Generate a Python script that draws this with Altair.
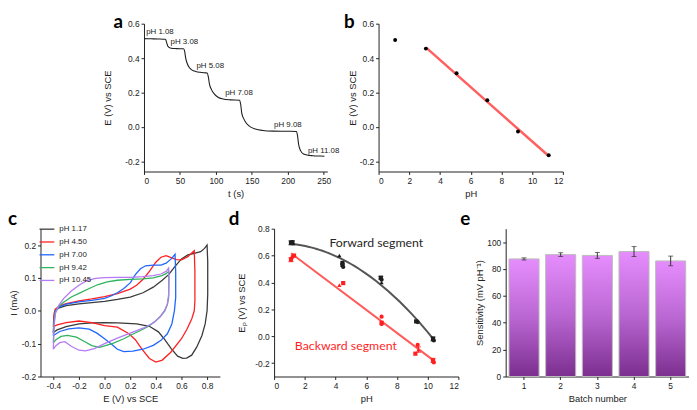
import altair as alt
import pandas as pd

FONT = "Liberation Sans"
LETTER_FONT = "Lato"

# ---------------- panel a : potential vs time ----------------
a_t = [0, 10, 20, 30, 31.5, 33, 35, 38, 45, 55, 56.5, 58, 60, 63, 67, 72, 78, 85, 88,
       89.5, 91, 94, 98, 103, 110, 120, 133, 134.5, 136, 139, 143, 148, 155, 165, 180,
       200, 212, 213.5, 215, 218, 222, 228, 235, 245, 251]
a_E = [0.513, 0.512, 0.511, 0.509, 0.49, 0.47, 0.462, 0.457, 0.455, 0.454, 0.44, 0.40,
       0.37, 0.345, 0.33, 0.322, 0.317, 0.314, 0.313, 0.29, 0.25, 0.215, 0.19, 0.172,
       0.162, 0.157, 0.155, 0.13, 0.08, 0.045, 0.018, 0.0, -0.013, -0.021, -0.025,
       -0.026, -0.027, -0.05, -0.10, -0.14, -0.158, -0.165, -0.168, -0.17, -0.171]
a_labels = ["pH 1.08", "pH 3.08", "pH 5.08", "pH 7.08", "pH 9.08", "pH 11.08"]
a_label_t = [3, 37, 73, 113, 181, 228]
a_label_E = [0.55, 0.495, 0.354, 0.196, 0.008, -0.14]

# ---------------- panel b : calibration ----------------
b_pH = [1.08, 3.08, 5.08, 7.08, 9.08, 11.08]
b_E = [0.505, 0.455, 0.312, 0.155, -0.027, -0.165]

# ---------------- panel c : cyclic voltammograms ----------------
c_labels = ["pH 1.17", "pH 4.50", "pH 7.00", "pH 9.42", "pH 10.45"]
c_colors = ["#3a3a3a", "#ff1f1f", "#1f66ff", "#2fb35c", "#b57af5"]
c1_E = [-0.40, -0.395, -0.385, -0.36, -0.3, -0.2, -0.1, 0.0, 0.1, 0.2, 0.3, 0.38, 0.45, 0.5, 0.55,
        0.6, 0.65, 0.7, 0.75, 0.78, 0.8, 0.805, 0.805, 0.8, 0.785, 0.76, 0.72, 0.68, 0.64, 0.61,
        0.57, 0.52, 0.47, 0.42, 0.35, 0.25, 0.1, 0.0, -0.1, -0.2, -0.3, -0.37, -0.40]
c1_I = [-0.066, -0.02, 0.0, 0.008, 0.016, 0.021, 0.025, 0.029, 0.035, 0.042, 0.055, 0.072, 0.093,
        0.11, 0.135, 0.158, 0.17, 0.175, 0.18, 0.19, 0.2, 0.15, 0.05, 0.0, -0.04, -0.075, -0.11,
        -0.135, -0.144, -0.145, -0.138, -0.115, -0.088, -0.064, -0.047, -0.04, -0.037, -0.036,
        -0.037, -0.04, -0.048, -0.058, -0.066]
c2_E = [-0.40, -0.395, -0.385, -0.35, -0.3, -0.2, -0.1, 0.0, 0.1, 0.2, 0.25, 0.3, 0.35, 0.4, 0.44,
        0.48, 0.52, 0.56, 0.6, 0.65, 0.7, 0.705, 0.705, 0.7, 0.68, 0.643, 0.6, 0.517, 0.45, 0.40,
        0.35, 0.29, 0.24, 0.19, 0.1, 0.0, -0.1, -0.2, -0.3, -0.37, -0.40]
c2_I = [-0.048, -0.01, 0.005, 0.015, 0.022, 0.03, 0.036, 0.043, 0.052, 0.066, 0.078, 0.096, 0.12,
        0.148, 0.163, 0.168, 0.162, 0.156, 0.155, 0.165, 0.183, 0.12, 0.03, 0.0, -0.025, -0.056,
        -0.085, -0.126, -0.15, -0.156, -0.145, -0.116, -0.088, -0.07, -0.05, -0.045, -0.036,
        -0.031, -0.036, -0.043, -0.048]
c3_E = [-0.40, -0.395, -0.385, -0.35, -0.3, -0.2, -0.1, 0.0, 0.05, 0.1, 0.15, 0.2, 0.24, 0.28,
        0.32, 0.38, 0.44, 0.48, 0.52, 0.55, 0.555, 0.555, 0.545, 0.525, 0.49, 0.44, 0.38, 0.3,
        0.22, 0.15, 0.1, 0.05, 0.0, -0.06, -0.12, -0.2, -0.28, -0.35, -0.40]
c3_I = [-0.075, -0.03, 0.0, 0.012, 0.02, 0.027, 0.032, 0.038, 0.045, 0.055, 0.068, 0.085, 0.11,
        0.128, 0.137, 0.139, 0.139, 0.145, 0.158, 0.172, 0.12, 0.04, 0.0, -0.04, -0.07, -0.09,
        -0.105, -0.117, -0.123, -0.124, -0.117, -0.1, -0.085, -0.068, -0.056, -0.052, -0.055,
        -0.063, -0.075]
c4_E = [-0.40, -0.395, -0.385, -0.36, -0.32, -0.26, -0.2, -0.12, -0.05, 0.02, 0.1, 0.2, 0.3,
        0.38, 0.44, 0.48, 0.5, 0.502, 0.5, 0.49, 0.47, 0.44, 0.4, 0.34, 0.28, 0.214, 0.15, 0.06,
        0.0, -0.04, -0.1, -0.15, -0.22, -0.29, -0.34, -0.38, -0.40]
c4_I = [-0.097, -0.04, -0.005, 0.012, 0.026, 0.042, 0.053, 0.068, 0.08, 0.088, 0.093, 0.096,
        0.097, 0.1, 0.106, 0.113, 0.12, 0.09, 0.04, 0.02, 0.0, -0.015, -0.03, -0.048, -0.06,
        -0.072, -0.085, -0.1, -0.107, -0.111, -0.106, -0.095, -0.08, -0.075, -0.078, -0.088,
        -0.097]
c5_E = [-0.40, -0.395, -0.385, -0.36, -0.32, -0.26, -0.2, -0.14, -0.07, 0.0, 0.1, 0.2, 0.3,
        0.38, 0.44, 0.48, 0.5, 0.502, 0.5, 0.49, 0.47, 0.43, 0.38, 0.3, 0.2, 0.1, 0.0, -0.08,
        -0.15, -0.2, -0.26, -0.31, -0.35, -0.38, -0.40]
c5_I = [-0.117, -0.05, -0.01, 0.015, 0.037, 0.06, 0.078, 0.092, 0.099, 0.101, 0.102, 0.102,
        0.104, 0.107, 0.112, 0.12, 0.13, 0.1, 0.05, 0.02, 0.002, -0.02, -0.037, -0.053, -0.068,
        -0.083, -0.1, -0.115, -0.122, -0.12, -0.108, -0.094, -0.097, -0.106, -0.117]

# ---------------- panel d : peak potentials ----------------
d_f_pH = [1.1, 1.2, 1.25, 4.25, 4.45, 4.45, 4.5, 6.95, 7.0, 7.0, 9.25, 9.35, 10.35, 10.4]
d_f_E = [0.695, 0.70, 0.69, 0.60, 0.545, 0.53, 0.515, 0.435, 0.42, 0.40, 0.11, 0.105, -0.02, -0.032]
d_f_err = [0.015, 0.01, 0.0, 0.0, 0.0, 0.0, 0.0, 0.01, 0.0, 0.0, 0.0, 0.0, 0.015, 0.0]
d_f_shape = ["square", "circle", "triangle-up", "triangle-up", "square", "square", "circle",
             "square", "circle", "triangle-up", "square", "circle", "square", "circle"]
d_b_pH = [1.1, 1.2, 1.3, 4.25, 4.5, 7.0, 7.0, 7.0, 9.2, 9.35, 9.4, 10.35, 10.4]
d_b_E = [0.57, 0.59, 0.60, 0.38, 0.395, 0.145, 0.10, 0.09, -0.13, -0.065, -0.10, -0.18, -0.195]
d_b_err = [0.015, 0.0, 0.0, 0.0, 0.0, 0.0, 0.0, 0.0, 0.0, 0.0, 0.02, 0.015, 0.0]
d_b_shape = ["square", "circle", "square", "triangle-up", "square", "circle", "square", "circle",
             "square", "circle", "triangle-up", "square", "circle"]
d_texts = ["Forward segment", "Backward segment"]
d_text_pH = [3.6, 1.35]
d_text_E = [0.69, -0.07]
d_text_colors = ["#262626", "#ff1f1f"]

# ---------------- panel e : sensitivity per batch ----------------
e_batch = [1, 2, 3, 4, 5]
e_sens = [87.5, 90.7, 90.1, 93.0, 86.0]
e_err = [0.8, 1.4, 2.2, 3.7, 3.6]


def ax(**kw):
    d = dict(domainColor="#222", tickColor="#222", tickSize=3, labelFont=FONT, labelFontSize=8.5,
             labelColor="#222", titleFont=FONT, titleFontSize=9.5, titleFontWeight="normal",
             titleColor="#222", grid=False, labelPadding=2, labelOverlap=False,
             labelExpr="replace(datum.label, '\u2212', '-')")
    d.update(kw)
    return alt.Axis(**d)


def letter(t, x, y):
    return (alt.Chart(pd.DataFrame({"k": [t]}))
            .mark_text(text=t, align="left", baseline="alphabetic", font=LETTER_FONT, fontSize=19,
                       fontWeight="bold", color="#000")
            .encode(x=alt.value(x), y=alt.value(y)))


def enc_factory(kind, scale, axis):
    def f(field):
        if kind == "x":
            return alt.X(field, scale=scale, axis=axis)
        return alt.Y(field, scale=scale, axis=axis)
    return f


# panel a
dfa = pd.DataFrame({"t": a_t, "E": a_E})
dfa_lab = pd.DataFrame({"t": a_label_t, "E": a_label_E, "lab": a_labels})
XA = enc_factory("x", alt.Scale(domain=[0, 255], nice=False),
                 ax(title="t (s)", values=[0, 50, 100, 150, 200, 250], titlePadding=4))
YA = enc_factory("y", alt.Scale(domain=[-0.26, 0.6], nice=False),
                 ax(title="E (V) vs SCE", values=[-0.2, 0, 0.2, 0.4, 0.6], format=".1f", titlePadding=12))
line_a = alt.Chart(dfa).mark_line(color="#1e1e1e", strokeWidth=1.1, interpolate="monotone").encode(
    x=XA("t:Q"), y=YA("E:Q"))
text_a = alt.Chart(dfa_lab).mark_text(align="left", baseline="middle", font=FONT, fontSize=8,
                                      color="#222").encode(x=XA("t:Q"), y=YA("E:Q"), text="lab:N")
panel_a = alt.layer(line_a, text_a, letter("a", -31, 4)).properties(width=186, height=150)

# panel b
dfb = pd.DataFrame({"pH": b_pH, "E": b_E})
XB = enc_factory("x", alt.Scale(domain=[0, 12], nice=False),
                 ax(title="pH", values=list(range(0, 13, 2)), titlePadding=4))
YB = enc_factory("y", alt.Scale(domain=[-0.26, 0.6], nice=False),
                 ax(title="E (V) vs SCE", values=[-0.2, 0, 0.2, 0.4, 0.6], format=".1f", titlePadding=2))
fit_b = (alt.Chart(dfb).transform_filter("datum.pH > 2").transform_regression("pH", "E")
         .mark_line(color="#ff5f5f", strokeWidth=2.5).encode(x=XB("pH:Q"), y=YB("E:Q")))
pts_b = alt.Chart(dfb).mark_point(filled=True, color="#000", size=16, opacity=1).encode(
    x=XB("pH:Q"), y=YB("E:Q"))
panel_b = alt.layer(fit_b, pts_b, letter("b", -35, 4)).properties(width=187, height=150)

# panel c
rows = []
for lab, Es, Is in zip(c_labels, [c1_E, c2_E, c3_E, c4_E, c5_E], [c1_I, c2_I, c3_I, c4_I, c5_I]):
    for k, (e, i) in enumerate(zip(Es, Is)):
        rows.append({"series": lab, "idx": k, "E": e, "I": i})
dfc = pd.DataFrame(rows)
lines_c = (alt.Chart(dfc).mark_line(strokeWidth=1.3, interpolate="linear")
           .encode(x=alt.X("E:Q", scale=alt.Scale(domain=[-0.5, 0.9], nice=False),
                           axis=ax(title="E (V) vs SCE", values=[-0.4, -0.2, 0, 0.2, 0.4, 0.6, 0.8],
                                   format=".1f", titlePadding=4)),
                   y=alt.Y("I:Q", scale=alt.Scale(domain=[-0.2, 0.25], nice=False),
                           axis=ax(title="I (mA)", values=[-0.2, -0.1, 0, 0.1, 0.2], format=".1f",
                                   titlePadding=3)),
                   color=alt.Color("series:N", scale=alt.Scale(domain=c_labels, range=c_colors),
                                   legend=alt.Legend(title=None, orient="none", legendX=-2, legendY=-8,
                                                     symbolType="M-1,0H1", symbolSize=225,
                                                     symbolStrokeWidth=1.3, labelFont=FONT,
                                                     labelFontSize=8, labelColor="#222",
                                                     rowPadding=-4, padding=0, labelOffset=4)),
                   order="idx:Q", detail="series:N"))
panel_c = alt.layer(lines_c, letter("c", -33, -4)).properties(width=182, height=150)

# panel d
dff = pd.DataFrame({"pH": d_f_pH, "E": d_f_E, "err": d_f_err, "shape": d_f_shape})
dfbk = pd.DataFrame({"pH": d_b_pH, "E": d_b_E, "err": d_b_err, "shape": d_b_shape})
dft = pd.DataFrame({"pH": d_text_pH, "E": d_text_E, "txt": d_texts, "col": d_text_colors})
XD = enc_factory("x", alt.Scale(domain=[0, 12], nice=False),
                 ax(title="pH", values=list(range(0, 13, 2)), titlePadding=4))
YD = enc_factory("y", alt.Scale(domain=[-0.3, 0.8], nice=False),
                 ax(title="E\u209a (V) vs SCE", values=[-0.2, 0, 0.2, 0.4, 0.6, 0.8], format=".1f",
                    titlePadding=8))
fit_f = (alt.Chart(dff).transform_regression("pH", "E", method="poly", order=2)
         .mark_line(color="#555555", strokeWidth=2).encode(x=XD("pH:Q"), y=YD("E:Q")))
fit_r = (alt.Chart(dfbk).transform_regression("pH", "E")
         .mark_line(color="#ff5a5a", strokeWidth=2).encode(x=XD("pH:Q"), y=YD("E:Q")))


def err_layer(df, col):
    base = alt.Chart(df).transform_filter("datum.err > 0").transform_calculate(
        lo="datum.E - datum.err", hi="datum.E + datum.err")
    r = base.mark_rule(color=col, strokeWidth=1.2).encode(x=XD("pH:Q"), y=YD("lo:Q"), y2="hi:Q")
    t1 = base.mark_tick(color=col, size=5, thickness=1.2, orient="horizontal").encode(
        x=XD("pH:Q"), y=YD("lo:Q"))
    t2 = base.mark_tick(color=col, size=5, thickness=1.2, orient="horizontal").encode(
        x=XD("pH:Q"), y=YD("hi:Q"))
    return [r, t1, t2]


def pts_layer(df, col):
    return alt.Chart(df).mark_point(filled=True, size=18, opacity=1, color=col).encode(
        x=XD("pH:Q"), y=YD("E:Q"), shape=alt.Shape("shape:N", scale=None))


txt_d = (alt.Chart(dft).mark_text(align="left", baseline="middle", font=LETTER_FONT, fontSize=12.5)
         .encode(x=XD("pH:Q"), y=YD("E:Q"), text="txt:N", color=alt.Color("col:N", scale=None)))
panel_d = (alt.layer(fit_f, fit_r, *err_layer(dff, "#1e1e1e"), *err_layer(dfbk, "#ff1f1f"),
                     pts_layer(dff, "#1e1e1e"), pts_layer(dfbk, "#ff1f1f"), txt_d,
                     letter("d", -46, -4))
           .properties(width=187, height=150))

# panel e
dfe = pd.DataFrame({"batch": e_batch, "sens": e_sens, "err": e_err})
grad = alt.Gradient(gradient="linear",
                    stops=[alt.GradientStop(color="#e68dfd", offset=0),
                           alt.GradientStop(color="#b966d2", offset=0.5),
                           alt.GradientStop(color="#7c2f8f", offset=1)],
                    x1=0, x2=0, y1=0, y2=1)
XE = enc_factory("x", alt.Scale(paddingInner=0.18, paddingOuter=0.09),
                 ax(title="Batch number", labelAngle=0, titlePadding=4, labelExpr="datum.label"))
YE = enc_factory("y", alt.Scale(domain=[0, 110], nice=False),
                 ax(title="Sensitivity (mV pH\u207b\u00b9)", values=[0, 20, 40, 60, 80, 100],
                    titlePadding=2, labelExpr="datum.label"))
bars_e = alt.Chart(dfe).mark_bar(color=grad, stroke="#bcbcbc", strokeWidth=1).encode(
    x=XE("batch:O"), y=YE("sens:Q"))
base_e = alt.Chart(dfe).transform_calculate(lo="datum.sens - datum.err", hi="datum.sens + datum.err")
err_e = base_e.mark_rule(color="#333333", strokeWidth=1).encode(x=XE("batch:O"), y=YE("lo:Q"), y2="hi:Q")
cap1_e = base_e.mark_tick(color="#333333", size=5, thickness=1, orient="horizontal").encode(
    x=XE("batch:O"), y=YE("lo:Q"))
cap2_e = base_e.mark_tick(color="#333333", size=5, thickness=1, orient="horizontal").encode(
    x=XE("batch:O"), y=YE("hi:Q"))
panel_e = (alt.layer(bars_e, err_e, cap1_e, cap2_e, letter("e", -46, -4))
           .properties(width=186, height=150))

spacer = (alt.Chart(pd.DataFrame({"v": [0]})).mark_rect(opacity=0)
          .encode(x=alt.value(0), x2=alt.value(59), y=alt.value(0), y2=alt.value(10))
          .properties(width=59, height=10))

row1 = alt.hconcat(spacer, panel_a, panel_b, spacing=4)
row2 = (alt.hconcat(panel_c, alt.hconcat(panel_d, panel_e, spacing=1), spacing=9)
        .resolve_scale(color="independent"))
chart = (alt.vconcat(row1, row2, spacing=12)
         .resolve_scale(color="independent")
         .properties(padding={"left": 0, "top": 2, "right": 0, "bottom": 0}, background="white")
         .configure_view(stroke=None))

chart.save("out.html", embed_options={"renderer": "svg", "actions": False})
